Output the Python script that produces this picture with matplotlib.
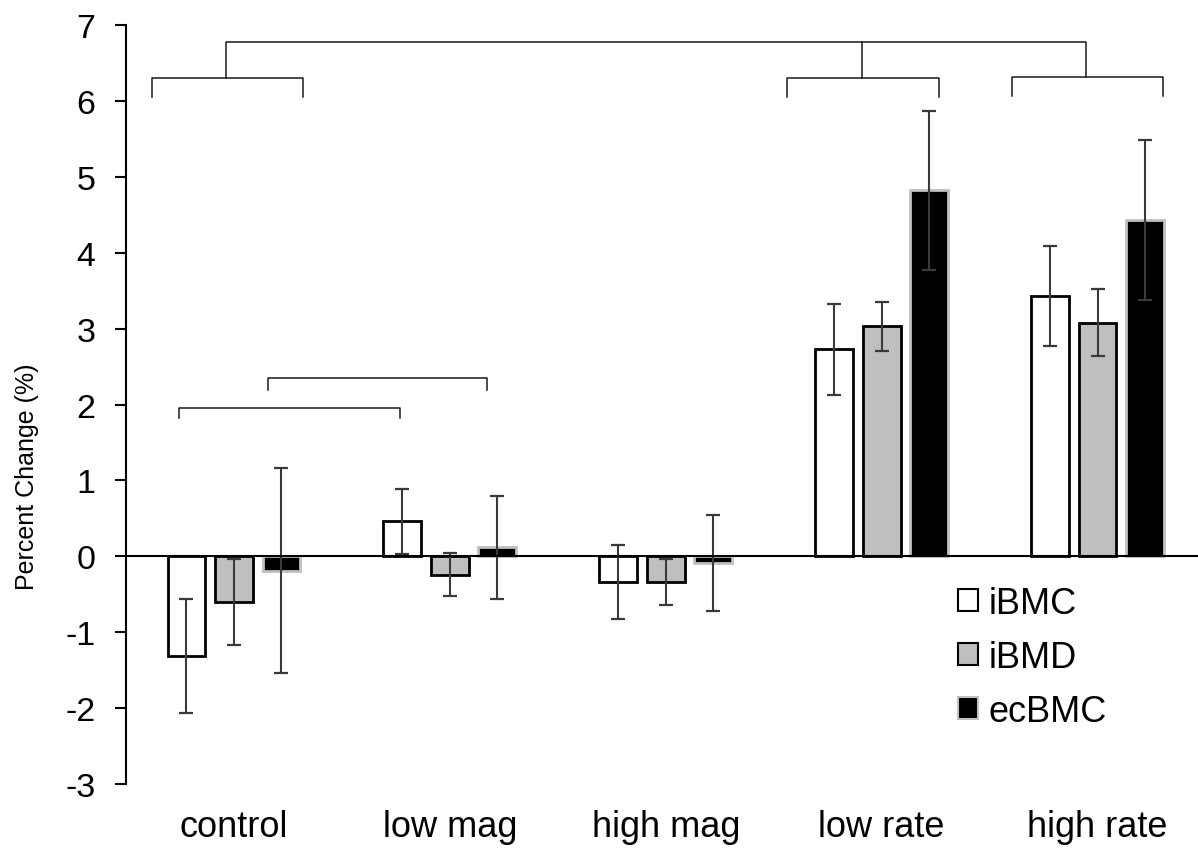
import matplotlib
matplotlib.use("Agg")
import matplotlib.pyplot as plt
from matplotlib.patches import Patch
import numpy as np

plt.rcParams['font.family'] = ['Liberation Sans', 'DejaVu Sans']

categories = ['control', 'low mag', 'high mag', 'low rate', 'high rate']
series_names = ['iBMC', 'iBMD', 'ecBMC']
ibmc = [-1.31, 0.46, -0.34, 2.73, 3.43]
ibmc_err = [0.75, 0.43, 0.49, 0.60, 0.66]
ibmd = [-0.60, -0.24, -0.34, 3.03, 3.08]
ibmd_err = [0.57, 0.28, 0.30, 0.32, 0.44]
ecbmc = [-0.19, 0.12, -0.09, 4.82, 4.43]
ecbmc_err = [1.35, 0.68, 0.63, 1.05, 1.05]
y_ticks = [-3, -2, -1, 0, 1, 2, 3, 4, 5, 6, 7]

W, H = 1198, 853
fig = plt.figure(figsize=(W / 100, H / 100), dpi=100)
ax = fig.add_axes([126 / W, 1 - 785 / H, 1079.5 / W, (785 - 26) / H])

x = np.arange(len(categories))
offset = 0.22
width = 0.175
styles = [
    dict(facecolor='white', edgecolor='black'),
    dict(facecolor='#bfbfbf', edgecolor='black'),
    dict(facecolor='black', edgecolor='#c0c0c0'),
]
vals = [ibmc, ibmd, ecbmc]
errs = [ibmc_err, ibmd_err, ecbmc_err]
for i, (v, e, st) in enumerate(zip(vals, errs, styles)):
    xs = x + (i - 1) * offset
    ax.bar(xs, v, width=width, linewidth=2.0, zorder=2, **st)
    ax.errorbar(xs, v, yerr=e, fmt='none', ecolor='#3a3a3a', elinewidth=1.5,
                capsize=5, capthick=1.6, zorder=3)

ax.axhline(0, color='black', linewidth=1.5, zorder=4)

ax.set_xlim(-0.5, 4.5)
ax.set_ylim(-3, 7)
ax.set_yticks(y_ticks)
ax.set_yticklabels([str(t) for t in y_ticks])
ax.set_xticks(x)
ax.set_xticklabels(categories, fontsize=26)
ax.tick_params(axis='x', length=0, pad=18)
ax.tick_params(axis='y', direction='out', length=8, width=1.5, pad=14, labelsize=24.5)
for s in ['top', 'right', 'bottom']:
    ax.spines[s].set_visible(False)
ax.spines['left'].set_linewidth(1.5)
ax.spines['left'].set_position(('data', -0.5))

ax.set_ylabel('Percent Change (%)', fontsize=18)
ax.yaxis.label.set_va('center')
ax.yaxis.set_label_coords((27 - 126) / 1079.5, (785 - 477) / (785 - 26))

# significance brackets
bk = dict(color='#1a1a1a', linewidth=1.1, zorder=5, clip_on=False)

def bracket(xl, xr, y, ydrop):
    ax.plot([xl, xl, xr, xr], [ydrop, y, y, ydrop], **bk)

c0, c3, c4 = x[0], x[3], x[4]
bracket(c0 - 0.38, c0 + 0.318, 6.30, 6.05)
bracket(c3 - 0.437, c3 + 0.264, 6.30, 6.05)
bracket(c4 - 0.397, c4 + 0.302, 6.32, 6.06)
ax.plot([c0 - 0.037, c0 - 0.037, c4 - 0.053, c4 - 0.053],
        [6.30, 6.78, 6.78, 6.32], **bk)
ax.plot([c3 - 0.089, c3 - 0.089], [6.78, 6.30], **bk)
bracket(x[0] - 0.255, x[1] - 0.23, 1.96, 1.82)
bracket(x[0] + 0.157, x[1] + 0.17, 2.35, 2.19)

handles = [Patch(label=n, linewidth=1.5, **st) for n, st in zip(series_names, styles)]
ax.legend(handles=handles, loc='upper left', bbox_to_anchor=(958 / W, 1 - 587 / H),
          bbox_transform=fig.transFigure, frameon=False, fontsize=26,
          handlelength=0.55, handleheight=0.55, handletextpad=0.3,
          labelspacing=0.52, borderpad=0, borderaxespad=0)

fig.savefig('out.png', dpi=100)
